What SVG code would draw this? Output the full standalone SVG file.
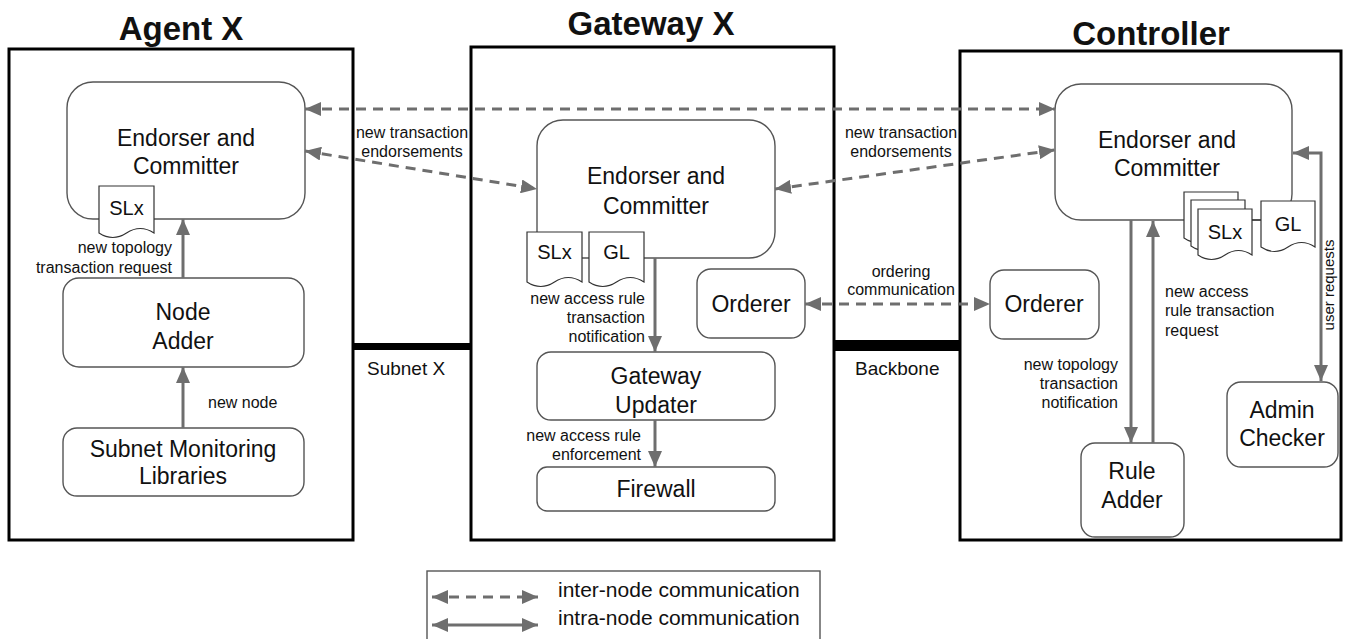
<svg xmlns="http://www.w3.org/2000/svg" width="1351" height="639" viewBox="0 0 1351 639">
<style>
text{font-family:"Liberation Sans",Arial,sans-serif;fill:#111}
.title{font-size:33px;font-weight:bold;text-anchor:middle}
.n{font-size:23px;text-anchor:middle}
.d{font-size:20px;text-anchor:middle}
.l{font-size:16px}
.c{text-anchor:middle}
.e{text-anchor:end}
.cont{fill:#fff;stroke:#000;stroke-width:3}
.box{fill:#fff;stroke:#555;stroke-width:1.4}
.doc{fill:#fff;stroke:#333;stroke-width:1.2}
.thin{fill:none;stroke:#333;stroke-width:1.2}
.a{fill:none;stroke:#6e6e6e;stroke-width:3;marker-end:url(#ah)}
.ab{fill:none;stroke:#6e6e6e;stroke-width:3;marker-end:url(#ah);marker-start:url(#ah)}
.dash{stroke-dasharray:10 7}
</style>
<defs>
<marker id="ah" markerUnits="userSpaceOnUse" markerWidth="16" markerHeight="14" refX="16" refY="7" orient="auto-start-reverse"><path d="M0,0 L16,7 L0,14 z" fill="#6e6e6e"/></marker>
</defs>

<g id="titles">
<text class="title" x="181" y="40">Agent X</text>
<text class="title" x="651" y="35">Gateway X</text>
<text class="title" x="1151" y="45">Controller</text>
</g>

<g id="links">
<line x1="353" y1="346.5" x2="471" y2="346.5" stroke="#000" stroke-width="7"/>
<line x1="834" y1="345.5" x2="960" y2="345.5" stroke="#000" stroke-width="11"/>
</g>

<g id="agent-x">
<rect class="cont" x="9" y="49" width="344" height="491"/>
</g>
<g id="gateway-x">
<rect class="cont" x="471" y="47" width="363" height="493"/>
</g>
<g id="controller">
<rect class="cont" x="960" y="51" width="381" height="489"/>
</g>

<g id="link-labels">
<text x="367" y="375" style="font-size:19px">Subnet X</text>
<text x="855" y="375" style="font-size:19px">Backbone</text>
</g>

<g id="agent-endorser">
<rect class="box" x="67" y="82" width="238" height="137" rx="26"/>
<text class="n" x="186" y="146">Endorser and</text>
<text class="n" x="186" y="174">Committer</text>
</g>
<g id="agent-slx">
<path class="doc" d="M99,186 H154 V233 Q140.25,224 126.5,233 Q112.75,242 99,233 Z"/>
<text class="d" x="126.5" y="215">SLx</text>
</g>
<g id="node-adder">
<rect class="box" x="63" y="278" width="241" height="89" rx="16"/>
<text class="n" x="183" y="320">Node</text>
<text class="n" x="183" y="349">Adder</text>
</g>
<g id="subnet-monitoring">
<rect class="box" x="63" y="428" width="241" height="68" rx="14"/>
<text class="n" x="183" y="457">Subnet Monitoring</text>
<text class="n" x="183" y="484">Libraries</text>
</g>

<g id="gateway-endorser">
<rect class="box" x="537" y="120" width="238" height="138" rx="26"/>
<text class="n" x="656" y="184">Endorser and</text>
<text class="n" x="656" y="214">Committer</text>
</g>
<g id="gateway-docs">
<path class="doc" d="M527,232 H582 V282 Q568.25,273 554.5,282 Q540.75,291 527,282 Z"/>
<text class="d" x="554.5" y="259">SLx</text>
<path class="doc" d="M589,232 H644 V282 Q630.25,273 616.5,282 Q602.75,291 589,282 Z"/>
<text class="d" x="616.5" y="259">GL</text>
</g>
<g id="gateway-orderer">
<rect class="box" x="697" y="269" width="108" height="69" rx="14"/>
<text class="n" x="751" y="312">Orderer</text>
</g>
<g id="gateway-updater">
<rect class="box" x="537" y="352" width="238" height="68" rx="14"/>
<text class="n" x="656" y="384">Gateway</text>
<text class="n" x="656" y="413">Updater</text>
</g>
<g id="firewall">
<rect class="box" x="537" y="467" width="238" height="44" rx="10"/>
<text class="n" x="656" y="497">Firewall</text>
</g>

<g id="controller-endorser">
<rect class="box" x="1055" y="84" width="237" height="136" rx="26"/>
<text class="n" x="1167" y="148">Endorser and</text>
<text class="n" x="1167" y="176">Committer</text>
</g>
<g id="controller-docs">
<path class="doc" d="M1184,192 H1238 V238 Q1224.5,229 1211,238 Q1197.5,247 1184,238 Z"/>
<path class="doc" d="M1191,200 H1245 V246 Q1231.5,237 1218,246 Q1204.5,255 1191,246 Z"/>
<path class="doc" d="M1198,209 H1252 V255 Q1238.5,246 1225,255 Q1211.5,264 1198,255 Z"/>
<text class="d" x="1225" y="239">SLx</text>
<line class="thin" x1="1252" y1="220" x2="1261" y2="220"/>
<path class="doc" d="M1261,201 H1315 V247 Q1301.5,238 1288,247 Q1274.5,256 1261,247 Z"/>
<text class="d" x="1288" y="231">GL</text>
</g>
<g id="controller-orderer">
<rect class="box" x="990" y="270" width="109" height="69" rx="14"/>
<text class="n" x="1044" y="312">Orderer</text>
</g>
<g id="rule-adder">
<rect class="box" x="1081" y="443" width="103" height="94" rx="14"/>
<text class="n" x="1132" y="479">Rule</text>
<text class="n" x="1132" y="508">Adder</text>
</g>
<g id="admin-checker">
<rect class="box" x="1227" y="382" width="111" height="85" rx="14"/>
<text class="n" x="1282" y="418">Admin</text>
<text class="n" x="1282" y="446">Checker</text>
</g>

<g id="connectors">
<line class="ab dash" x1="305" y1="109" x2="1055" y2="109"/>
<line class="ab dash" x1="305" y1="151" x2="537" y2="189"/>
<line class="ab dash" x1="775" y1="189" x2="1055" y2="150"/>
<line class="ab dash" x1="805" y1="304" x2="990" y2="304"/>
<line class="a" x1="183" y1="278" x2="183" y2="219"/>
<line class="a" x1="183" y1="428" x2="183" y2="367"/>
<line class="a" x1="655" y1="258" x2="655" y2="352"/>
<line class="a" x1="655" y1="420" x2="655" y2="467"/>
<line class="a" x1="1131" y1="220" x2="1131" y2="443"/>
<line class="a" x1="1153" y1="443" x2="1153" y2="221"/>
<path class="ab" d="M1293,153 H1321 V381"/>
</g>

<g id="connector-labels">
<text class="l c" x="412" y="138">new transaction</text>
<text class="l c" x="412" y="157">endorsements</text>
<text class="l c" x="901" y="138">new transaction</text>
<text class="l c" x="901" y="157">endorsements</text>
<text class="l c" x="901" y="277">ordering</text>
<text class="l c" x="901" y="295">communication</text>
<text class="l e" x="172" y="253">new topology</text>
<text class="l e" x="172" y="273">transaction request</text>
<text class="l" x="208" y="408">new node</text>
<text class="l e" x="645" y="304">new access rule</text>
<text class="l e" x="645" y="323">transaction</text>
<text class="l e" x="645" y="342">notification</text>
<text class="l e" x="641" y="441">new access rule</text>
<text class="l e" x="641" y="460">enforcement</text>
<text class="l" x="1165" y="297">new access</text>
<text class="l" x="1165" y="316">rule transaction</text>
<text class="l" x="1165" y="336">request</text>
<text class="l e" x="1118" y="370">new topology</text>
<text class="l e" x="1118" y="389">transaction</text>
<text class="l e" x="1118" y="408">notification</text>
<text class="l c" x="1334" y="285" transform="rotate(-90 1334 285)" style="font-size:15px">user requests</text>
</g>

<g id="legend">
<rect x="427" y="571" width="393" height="75" fill="#fff" stroke="#555" stroke-width="1.4"/>
<line class="ab dash" x1="432" y1="597" x2="538" y2="597"/>
<line class="ab" x1="432" y1="625" x2="538" y2="625"/>
<text x="558" y="597" style="font-size:21px">inter-node communication</text>
<text x="558" y="625" style="font-size:21px">intra-node communication</text>
</g>
</svg>
